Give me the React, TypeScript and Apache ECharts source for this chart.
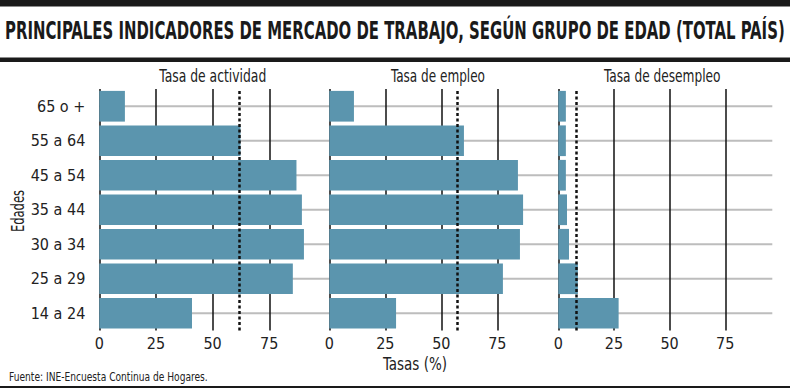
import React, { useEffect, useRef } from 'react';
import * as echarts from 'echarts';

// ---- data ----
const ageGroups = ['14 a 24', '25 a 29', '30 a 34', '35 a 44', '45 a 54', '55 a 64', '65 o +'];
const activityRate = [40.9, 85.4, 90.3, 89.4, 87.0, 62.3, 11.3];
const employmentRate = [29.8, 77.5, 85.1, 86.5, 84.2, 60.1, 11.0];
const unemploymentRate = [27.1, 8.8, 4.8, 3.9, 3.4, 3.4, 3.4];
const totalRates = [61.6, 56.9, 7.9];
const panelTitles = ['Tasa de actividad', 'Tasa de empleo', 'Tasa de desempleo'];
const titleText = 'PRINCIPALES INDICADORES DE MERCADO DE TRABAJO, SEGÚN GRUPO DE EDAD (TOTAL PAÍS)';
const yAxisTitle = 'Edades';
const xAxisTitle = 'Tasas (%)';
const sourceText = 'Fuente: INE-Encuesta Continua de Hogares.';

const FONT = '"Liberation Sans Narrow", "DejaVu Sans Condensed", "Roboto Condensed", sans-serif';
const TXT = '#222222';
const BAR = '#5b95ae';

function measure(text: string, font: string): number {
  const c = document.createElement('canvas').getContext('2d');
  if (!c) return 1;
  c.font = font;
  return c.measureText(text).width || 1;
}

export default function App() {
  const ref = useRef<HTMLDivElement>(null);
  useEffect(() => {
    if (!ref.current) return;
    const chart = echarts.init(ref.current, null, { renderer: 'svg' });

    const seriesValues = [activityRate, employmentRate, unemploymentRate];
    const top = 89;
    const height = 241.5;
    const panels = [
      { left: 99.3, width: 226.6, max: 99.99 },
      { left: 329.3, width: 224, max: 99.99 },
      { left: 558.3, width: 213.7, max: 96 },
    ];

    const grids: any[] = panels.map((p) => ({ left: p.left, top, width: p.width, height, outerBoundsMode: 'none' }));
    grids.push({ left: 99.3, top, width: 772.3 - 99.3, height, outerBoundsMode: 'none' });

    const xAxes: any[] = panels.map((p, i) => ({
      type: 'value',
      gridIndex: i,
      min: 0,
      max: p.max,
      interval: 25,
      z: 1,
      axisLine: { show: false },
      axisTick: { show: false },
      splitLine: { show: true, showMaxLine: false, showMinLine: true, lineStyle: { color: '#111', width: 1.5 } },
      axisLabel: { show: true, showMaxLabel: false, fontFamily: FONT, fontSize: 16, color: TXT, margin: 5 },
    }));
    xAxes.push({ type: 'value', gridIndex: 3, min: 0, max: 1, show: false });

    const yAxes: any[] = [0, 1, 2, 3].map((i) => ({
      type: 'category',
      gridIndex: i,
      data: ageGroups,
      axisLine: { show: false },
      axisTick: { show: false },
      splitLine: { show: false },
      axisLabel: { show: i === 0, interval: 0, fontFamily: FONT, fontSize: 16, color: TXT, margin: 14 },
    }));

    const series: any[] = seriesValues.map((vals, i) => ({
      type: 'bar',
      xAxisIndex: i,
      yAxisIndex: i,
      data: vals,
      barCategoryGap: '11%',
      itemStyle: { color: BAR },
      z: 2,
      silent: true,
      markLine: {
        silent: true,
        symbol: 'none',
        label: { show: false },
        lineStyle: { color: '#111', type: [3, 2.5], width: 2.5 },
        data: [{ xAxis: totalRates[i] }],
      },
    }));
    series.push({
      type: 'bar',
      xAxisIndex: 3,
      yAxisIndex: 3,
      data: ageGroups.map(() => 1),
      barWidth: 2,
      itemStyle: { color: '#bdbdbd' },
      z: 0,
      silent: true,
    });

    const fitted = (text: string, font: string, target: number) => target / measure(text, font);

    const titleFont = `bold 24px ${FONT}`;
    const srcFont = `13px ${FONT}`;
    const facetFont = `17px ${FONT}`;
    const facetCenters = [212.8, 438, 662.3];
    const facetWidths = [107, 94, 116.7];
    const nameFont = `17px ${FONT}`;

    const centered = { align: 'center', verticalAlign: 'middle', textAlign: 'center', textVerticalAlign: 'middle' };
    const leftMid = { align: 'left', verticalAlign: 'middle', textAlign: 'left', textVerticalAlign: 'middle' };

    const graphic: any[] = [
      { type: 'rect', shape: { x: 0, y: 0, width: 790, height: 6.5 }, style: { fill: '#1a1a1a' } },
      { type: 'rect', shape: { x: 0, y: 57.5, width: 790, height: 4.5 }, style: { fill: '#1a1a1a' } },
      { type: 'rect', shape: { x: 0, y: 386, width: 790, height: 2 }, style: { fill: '#1a1a1a' } },
      {
        type: 'text',
        x: 5,
        y: 31,
        scaleX: fitted(titleText, titleFont, 780),
        style: { text: titleText, font: titleFont, fill: '#1a1a1a', ...leftMid },
      },
      ...panelTitles.map((t, i) => ({
        type: 'text',
        x: facetCenters[i],
        y: 76.5,
        scaleX: fitted(t, facetFont, facetWidths[i]),
        style: { text: t, font: facetFont, fill: TXT, ...centered },
      })),
      {
        type: 'text',
        x: 415,
        y: 364,
        scaleX: fitted(xAxisTitle, nameFont, 64),
        style: { text: xAxisTitle, font: nameFont, fill: TXT, ...centered },
      },
      {
        type: 'text',
        x: 18,
        y: 211,
        rotation: Math.PI / 2,
        scaleX: fitted(yAxisTitle, nameFont, 42),
        style: { text: yAxisTitle, font: nameFont, fill: TXT, ...centered },
      },
      {
        type: 'text',
        x: 9,
        y: 376.5,
        scaleX: fitted(sourceText, srcFont, 199),
        style: { text: sourceText, font: srcFont, fill: TXT, ...leftMid },
      },
    ];

    chart.setOption({
      animation: false,
      backgroundColor: '#ffffff',
      grid: grids,
      xAxis: xAxes,
      yAxis: yAxes,
      series,
      graphic,
    });
    return () => chart.dispose();
  }, []);
  return (
    <div
      ref={ref}
      style={{ position: 'fixed', left: 0, top: 0, width: 790, height: 388, background: '#fff' }}
    />
  );
}
